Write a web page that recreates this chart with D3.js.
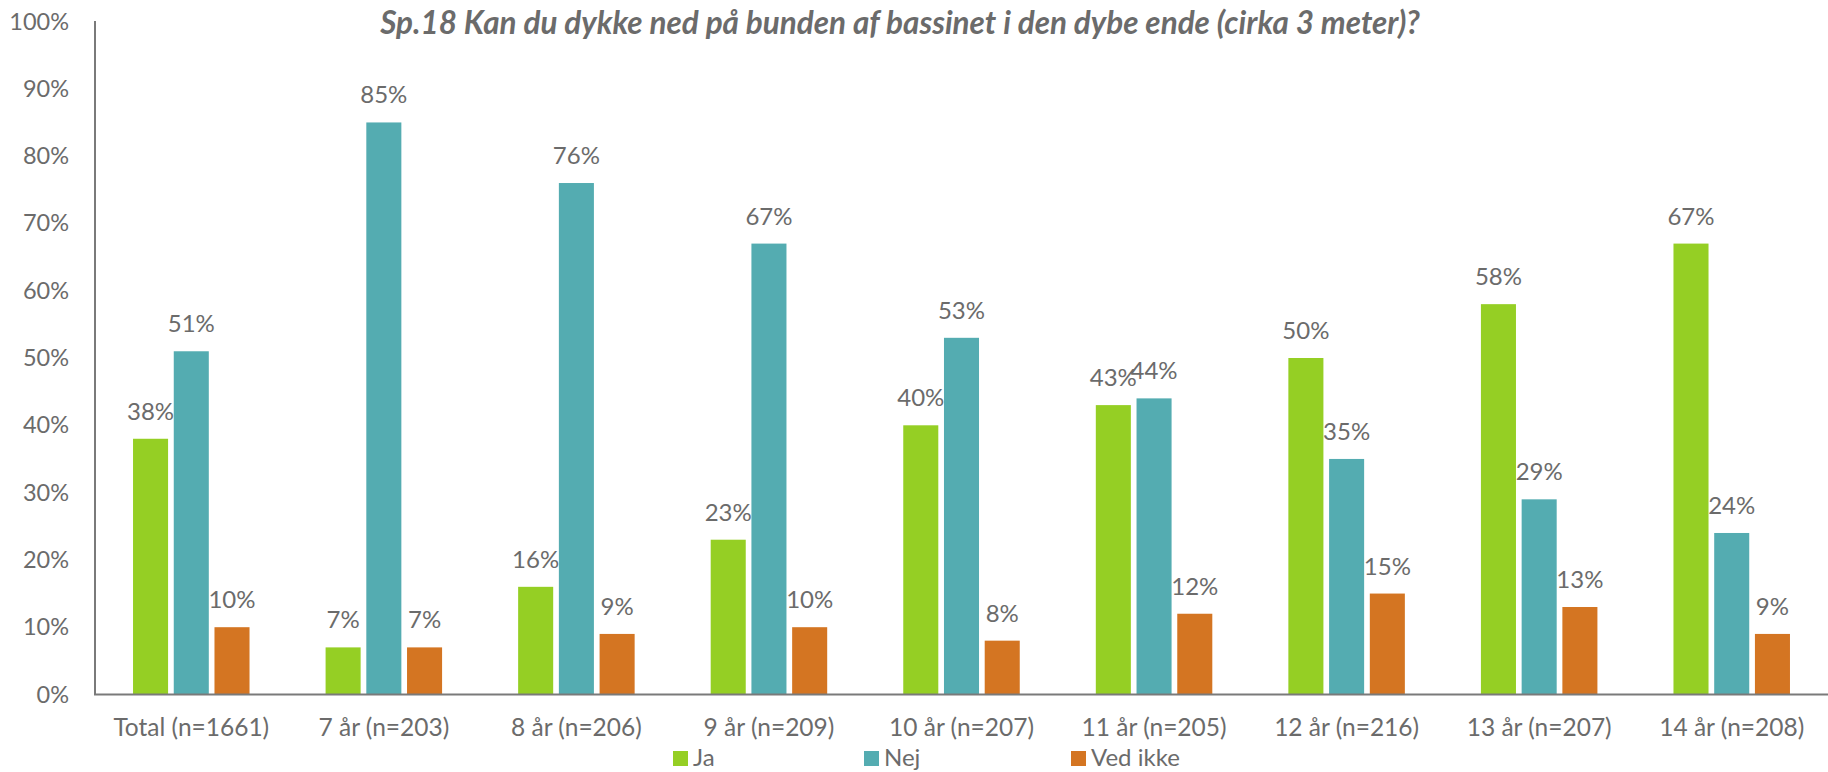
<!DOCTYPE html>
<html>
<head>
<meta charset="utf-8">
<script src="https://cdn.jsdelivr.net/npm/d3@7"></script>
<style>
  html, body { margin: 0; padding: 0; background: #fff; }
  svg { display: block; }
  text { font-family: Lato, "Noto Sans", sans-serif; fill: #6b6b6b; }
</style>
</head>
<body>
<svg id="chart" width="1828" height="772"></svg>
<script>
const title = "Sp.18 Kan du dykke ned på bunden af bassinet i den dybe ende (cirka 3 meter)?";
const categories = ["Total (n=1661)", "7 år (n=203)", "8 år (n=206)", "9 år (n=209)", "10 år (n=207)", "11 år (n=205)", "12 år (n=216)", "13 år (n=207)", "14 år (n=208)"];
const seriesNames = ["Ja", "Nej", "Ved ikke"];
const ja      = [38, 7, 16, 23, 40, 43, 50, 58, 67];
const nej     = [51, 85, 76, 67, 53, 44, 35, 29, 24];
const vedIkke = [10, 7, 9, 10, 8, 12, 15, 13, 9];
const yTicks  = [0, 10, 20, 30, 40, 50, 60, 70, 80, 90, 100];
const colors  = ["#95cf24", "#54acb1", "#d47522"];

(function () {
const seriesValues = [ja, nej, vedIkke];

const svg = d3.select("#chart");
const mLeft = 95, mRight = 1828, mTop = 21.5, mBottom = 694.5;

const x = d3.scaleBand().domain(categories).range([mLeft, mRight]).paddingInner(0).paddingOuter(0);
const y = d3.scaleLinear().domain([0, 100]).range([mBottom, mTop]);

const step = x.bandwidth();
const barW = step * 0.182;
const gap = step * 0.0295;
const groupW = 3 * barW + 2 * gap;
const x1 = d3.scaleBand().domain(seriesNames).range([0, groupW]).paddingInner(gap / (barW + gap)).paddingOuter(0);

// Bars
seriesNames.forEach((s, si) => {
  const g = svg.append("g");
  const vals = seriesValues[si];
  g.selectAll("rect").data(categories).join("rect")
    .attr("x", (c) => x(c) + (step - groupW) / 2 + x1(s))
    .attr("y", (c, i) => y(vals[i]))
    .attr("width", x1.bandwidth())
    .attr("height", (c, i) => y(0) - y(vals[i]))
    .attr("fill", colors[si]);
  g.selectAll("text").data(categories).join("text")
    .attr("x", (c) => x(c) + (step - groupW) / 2 + x1(s) + x1.bandwidth() / 2)
    .attr("y", (c, i) => y(vals[i]) - 19)
    .attr("text-anchor", "middle")
    .style("font-size", "24px")
    .text((c, i) => vals[i] + "%");
});

// Y axis
const yAxis = d3.axisLeft(y).tickValues(yTicks).tickFormat(d => d + "%").tickSize(0).tickPadding(26);
const yg = svg.append("g").attr("transform", `translate(${mLeft},0)`).call(yAxis);
yg.select(".domain").attr("stroke", "#7a7a7a").attr("stroke-width", 2).attr("d", `M0,${mTop - 0.5}V${mBottom}`);
yg.selectAll("text").style("font-size", "23.5px").attr("fill", "#6b6b6b").style("font-family", "Lato, sans-serif");

// X axis
const xAxis = d3.axisBottom(x).tickSize(0).tickPadding(24);
const xg = svg.append("g").attr("transform", `translate(0,${mBottom})`).call(xAxis);
xg.select(".domain").attr("stroke", "#7a7a7a").attr("stroke-width", 2).attr("d", `M${mLeft - 1},0H${mRight}`);
xg.selectAll("text").style("font-size", "24.5px").attr("fill", "#6b6b6b").style("font-family", "Lato, sans-serif");

// Title (font size fitted to the reference width)
const t = svg.append("text")
  .attr("x", 900).attr("y", 34)
  .attr("text-anchor", "middle")
  .style("font-size", "24px").style("font-weight", "bold").style("font-style", "italic")
  .attr("fill", "#6b6b6b")
  .text(title);
const tw = t.node().getComputedTextLength();
if (tw > 0) t.style("font-size", (24 * 1040 / tw).toFixed(2) + "px");

// Legend
const legendX = [673, 864, 1071];
const lg = svg.append("g");
seriesNames.forEach((s, i) => {
  lg.append("rect").attr("x", legendX[i]).attr("y", 751).attr("width", 15).attr("height", 15).attr("fill", colors[i]);
  lg.append("text").attr("x", legendX[i] + 20).attr("y", 766).style("font-size", "24px").text(s);
});
})();
</script>
</body>
</html>
